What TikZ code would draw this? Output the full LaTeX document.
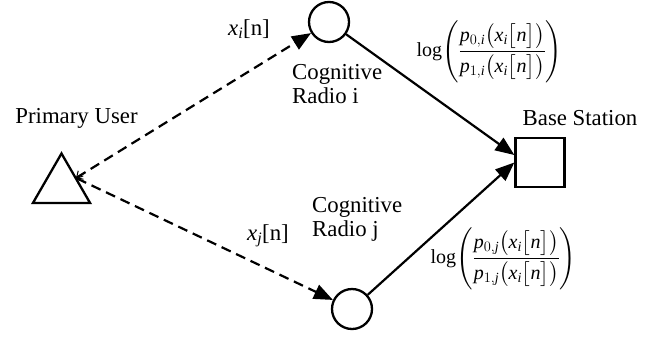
\documentclass[tikz,border=0pt]{standalone}
\usepackage{amsmath}
\usepackage{fontspec}
\setmainfont{Liberation Serif}
\newfontfamily\tms{Liberation Serif}
\usetikzlibrary{arrows.meta,shapes.geometric}
\newcommand{\fracrule}{\rule[-6pt]{0pt}{21pt}}
\begin{document}
\begin{tikzpicture}[x=1pt,y=-1pt,
  circ/.style={circle,draw,line width=2.3pt,minimum size=40pt,inner sep=0pt},
  sq/.style={rectangle,draw,line width=2.3pt,minimum size=49pt,inner sep=0pt},
  tri/.style={regular polygon,regular polygon sides=3,draw,line width=2.3pt,minimum size=66pt,inner sep=0pt},
  lbl/.style={font=\tms\fontsize{22.8}{24}\selectfont,inner sep=0pt},
  frm/.style={font=\tms\fontsize{20}{24}\selectfont,inner sep=0pt},
  dasharr/.style={line width=2.2pt,dash pattern=on 10pt off 6pt,
    {Straight Barb[length=5pt,width=10pt,line width=1pt]}-{Triangle[length=19pt,width=15pt]}},
  solarr/.style={line width=2.2pt,-{Triangle[length=19pt,width=15pt]}}]
\useasboundingbox (0,0) rectangle (668,340);
\node[circ] (ci) at (329,22) {};
\node[circ] (cj) at (352,309) {};
\node[sq] (bs) at (540,162.5) {};
\node[tri] (pu) at (61.5,186.5) {};
\coordinate (pue) at (76,178);
\draw[dasharr] (pue) -- (ci);
\draw[dasharr] (pue) -- (cj);
\draw[solarr] (ci) -- ([yshift=7.5pt]bs.west);
\draw[solarr] (cj) -- (bs.west);
\node[lbl,anchor=base] (pul) at (76.5,123) {Primary User};
\node[lbl,anchor=base] (bsl) at (580,125) {Base Station};
\node[lbl,anchor=base] (xil) at (249,35) {$\mathit{x}_{\mathit{i}}$[n]};
\node[lbl,anchor=base] (xjl) at (268,240) {$\mathit{x}_{\mathit{j}}$[n]};
\node[lbl,align=left,anchor=north west] (cil) at (292,64.5) {Cognitive\\Radio i};
\node[lbl,align=left,anchor=north west] (cjl) at (312,197.5) {Cognitive\\Radio j};
\node[frm] (fi) at (489.5,51.5) {$\mathrm{log}\Biggl(\dfrac{\fracrule\mathit{p}_{0,\mathit{i}}\bigl(\mathit{x}_{\mathit{i}}\bigl[\mathit{n}\bigr]\bigr)}{\fracrule\mathit{p}_{1,\mathit{i}}\bigl(\mathit{x}_{\mathit{i}}\bigl[\mathit{n}\bigr]\bigr)}\Biggr)$};
\node[frm] (fj) at (503.5,258.5) {$\mathrm{log}\Biggl(\dfrac{\fracrule\mathit{p}_{0,\mathit{j}}\bigl(\mathit{x}_{\mathit{i}}\bigl[\mathit{n}\bigr]\bigr)}{\fracrule\mathit{p}_{1,\mathit{j}}\bigl(\mathit{x}_{\mathit{i}}\bigl[\mathit{n}\bigr]\bigr)}\Biggr)$};
\end{tikzpicture}
\end{document}
